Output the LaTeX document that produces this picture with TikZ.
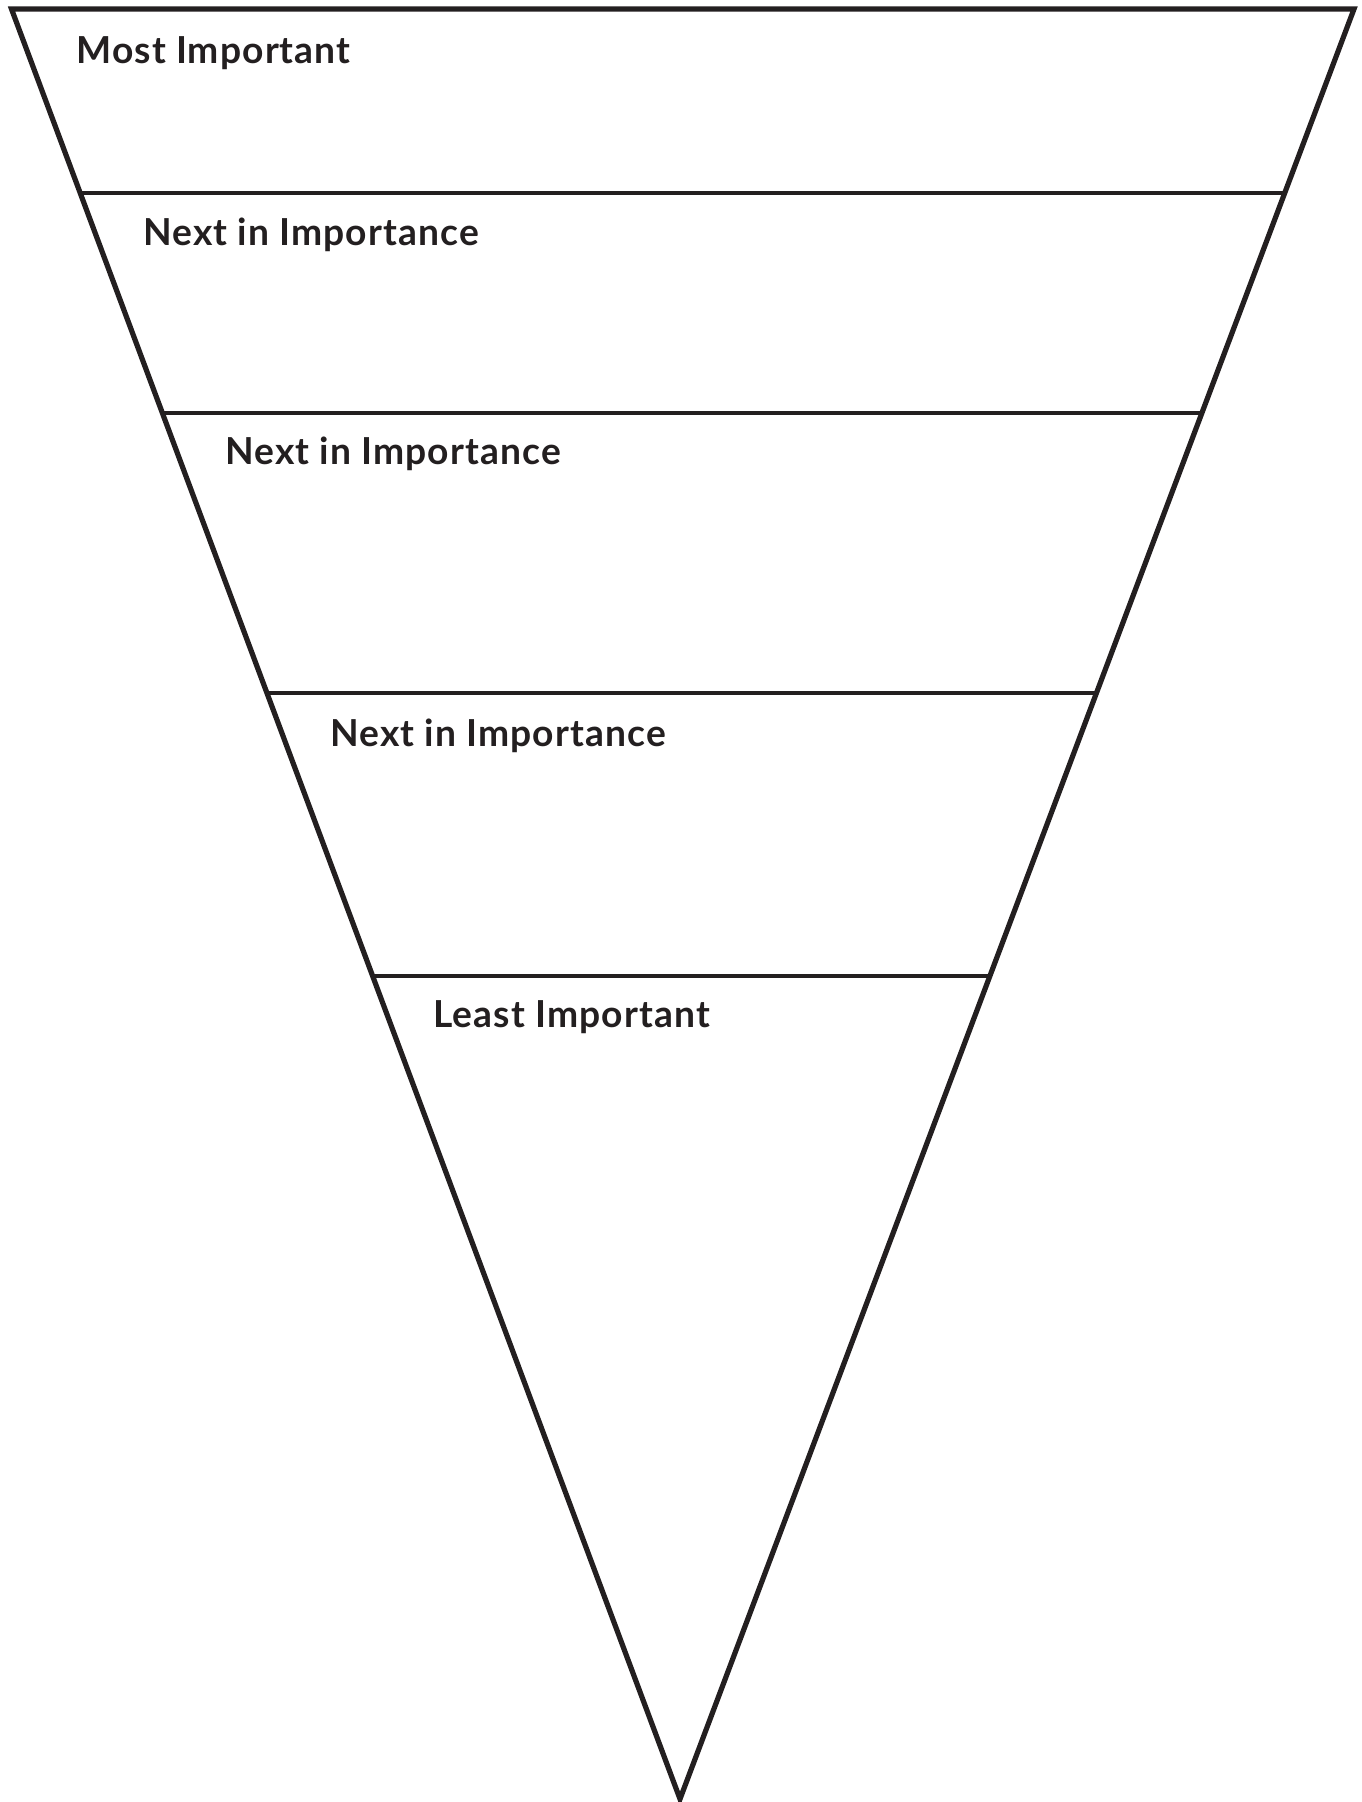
\documentclass[tikz,border=0pt]{standalone}
\usepackage{fontspec}
\usetikzlibrary{calc}
\newfontfamily\labfont{Lato}[LetterSpace=3]
\definecolor{ink}{HTML}{231F20}
\begin{document}
\begin{tikzpicture}[x={(0.5bp,0)}, y={(0,-0.5bp)},
  edge/.style={draw=ink, line width=2.6bp, line join=miter},
  rung/.style={draw=ink, line width=2.3bp},
  lab/.style={anchor=base west, inner sep=0pt, text=ink, font=\labfont\bfseries\fontsize{18.6bp}{21bp}\selectfont}]
\useasboundingbox (0,0) rectangle (1362,1802);
\coordinate (tl) at (11.5,9);
\coordinate (tr) at (1354,9);
\coordinate (ap) at (680,1799);
\draw[edge] (ap) -- (tl) -- (tr) -- cycle;
\foreach \i/\t in {1/0.1028,2/0.2257,3/0.3821,4/0.5403}{
  \coordinate (l\i) at ($(tl)!\t!(ap)$);
  \coordinate (r\i) at ($(tr)!\t!(ap)$);
  \draw[rung] (l\i) -- (r\i);
}
\node[lab] (t0) at (76,63) {Most Important};
\node[lab] (t1) at (143,245) {Next in Importance};
\node[lab] (t2) at (225,464) {Next in Importance};
\node[lab] (t3) at (330,746) {Next in Importance};
\node[lab] (t4) at (433,1027) {Least Important};
\end{tikzpicture}
\end{document}
